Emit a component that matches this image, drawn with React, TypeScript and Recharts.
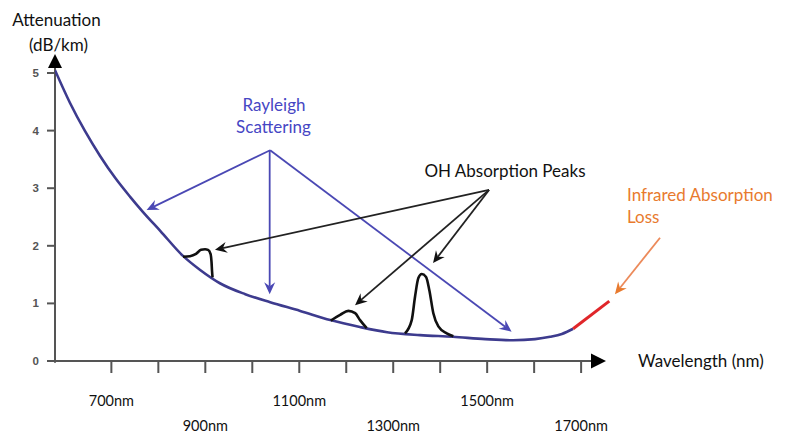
import React from 'react';
import { LineChart, Line, XAxis, YAxis, ReferenceLine } from 'recharts';

// ---- data ----
const baseWavelengths = [580, 612, 644, 676, 708, 740, 767, 804, 853, 889, 931, 985, 1038, 1102, 1166, 1229, 1287, 1357, 1427, 1496, 1555, 1602, 1634, 1659, 1683];
const baseAttenuation = [5.05, 4.48, 3.99, 3.56, 3.18, 2.85, 2.59, 2.26, 1.82, 1.58, 1.35, 1.16, 1.02, 0.87, 0.71, 0.59, 0.5, 0.45, 0.42, 0.38, 0.36, 0.38, 0.42, 0.47, 0.56];

const ohPeak1Wavelengths = [852.5, 867.4, 880.2, 890.9, 899.4, 905.8, 911.1, 913.2, 914.3, 915.4];
const ohPeak1Values = [1.81, 1.82, 1.86, 1.93, 1.94, 1.93, 1.86, 1.72, 1.56, 1.45];

const ohPeak2Wavelengths = [1167, 1187, 1204.5, 1219, 1229.4, 1243.6];
const ohPeak2Values = [0.7, 0.8, 0.87, 0.83, 0.71, 0.57];

const ohPeak3Wavelengths = [1325, 1339.4, 1346.5, 1353.5, 1360.7, 1369.9, 1376.9, 1385.4, 1396.1, 1413.9, 1428];
const ohPeak3Values = [0.48, 0.71, 1.12, 1.44, 1.51, 1.46, 1.23, 0.83, 0.6, 0.48, 0.43];

const irWavelengths = [1683, 1760];
const irValues = [0.56, 1.04];

const xTicks = [700, 800, 900, 1000, 1100, 1200, 1300, 1400, 1500, 1600, 1700];
const xLabelled = [700, 900, 1100, 1300, 1500, 1700];
const yTicks = [0, 1, 2, 3, 4, 5];

// annotation arrows: [fromX, fromY, toX, toY] in data units
const rayleighArrows = [
  [1038, 3.66, 775, 2.62],
  [1037, 3.66, 1037, 1.16],
  [1038, 3.66, 1552, 0.51],
];
const ohArrows = [
  [1504, 2.97, 920.6, 1.93],
  [1504, 2.97, 1218.7, 0.97],
  [1504, 2.97, 1384.8, 1.7],
];
const irArrow = [1868, 2.14, 1772, 1.16];

const zip = (xs: number[], ys: number[]) => xs.map((x, i) => ({ x, y: ys[i] }));

const baseData = zip(baseWavelengths, baseAttenuation);
const oh1Data = zip(ohPeak1Wavelengths, ohPeak1Values);
const oh2Data = zip(ohPeak2Wavelengths, ohPeak2Values);
const oh3Data = zip(ohPeak3Wavelengths, ohPeak3Values);
const irData = zip(irWavelengths, irValues);

const FONT = 'Lato, "Open Sans", sans-serif';

const arrowShape =
  (lineColor: string, headColor: string, width: number, headLen: number, headHalf: number, notch: number) =>
  (props: any) => {
    const { x1, y1, x2, y2 } = props;
    if ([x1, y1, x2, y2].some((v) => typeof v !== 'number' || isNaN(v))) return <g />;
    const dx = x2 - x1;
    const dy = y2 - y1;
    const L = Math.hypot(dx, dy) || 1;
    const ux = dx / L;
    const uy = dy / L;
    const nx = -uy;
    const ny = ux;
    const bx = x2 - ux * headLen;
    const by = y2 - uy * headLen;
    const mX = x2 - ux * (headLen - notch);
    const mY = y2 - uy * (headLen - notch);
    return (
      <g>
        <line x1={x1} y1={y1} x2={mX} y2={mY} stroke={lineColor} strokeWidth={width} />
        <path
          d={`M${x2},${y2} L${bx + nx * headHalf},${by + ny * headHalf} L${mX},${mY} L${bx - nx * headHalf},${by - ny * headHalf} Z`}
          fill={headColor}
        />
      </g>
    );
  };

const XTick = (props: any) => {
  const { x, payload } = props;
  const v = payload?.value;
  const idx = xLabelled.indexOf(v);
  if (idx < 0) return <g />;
  const row = idx % 2;
  return (
    <text
      x={x}
      y={row === 0 ? 400 : 425}
      textAnchor="middle"
      dominantBaseline="central"
      fontFamily={FONT}
      fontSize={14.5}
      fill="#111"
    >
      {`${v}nm`}
    </text>
  );
};

const YTick = (props: any) => {
  const { y, payload } = props;
  return (
    <text
      x={39}
      y={y}
      textAnchor="end"
      dominantBaseline="central"
      fontFamily='"Liberation Sans", Arial, sans-serif'
      fontWeight="bold"
      fontSize={11.5}
      fill="#555"
    >
      {payload?.value}
    </text>
  );
};

const BLUE_LINE = '#3d3b8e';
const BLUE_ARROW = '#4a48b4';
const BLUE_TEXT = '#4646c4';
const ORANGE = '#e87a2e';

export default function App() {
  return (
    <div style={{ position: 'absolute', left: 0, top: 0, width: 787, height: 434, background: '#fff' }}>
      <LineChart width={787} height={434} margin={{ top: 61.5, right: 173, bottom: 13, left: 0 }}>
        <XAxis
          type="number"
          dataKey="x"
          domain={[580, 1770]}
          allowDataOverflow
          ticks={xTicks}
          interval={0}
          axisLine={false}
          tickLine={{ stroke: '#555', strokeWidth: 2 }}
          tickSize={12}
          height={60}
          tick={<XTick />}
        />
        <YAxis
          type="number"
          domain={[0, 5.2]}
          allowDataOverflow
          ticks={yTicks}
          interval={0}
          width={55}
          axisLine={false}
          tickLine={{ stroke: '#555', strokeWidth: 2 }}
          tickSize={8}
          tick={<YTick />}
        />
        {/* axes with arrowheads */}
        <ReferenceLine
          segment={[{ x: 563, y: 0 }, { x: 1753, y: 0 }]}
          ifOverflow="visible"
          shape={arrowShape('#555', '#000', 2, 15, 7.5, 0)}
        />
        <ReferenceLine
          segment={[{ x: 580, y: -0.03 }, { x: 580, y: 5.33 }]}
          ifOverflow="visible"
          shape={arrowShape('#555', '#000', 2, 14, 7, 0)}
        />
        <Line data={baseData} dataKey="y" type="monotone" stroke={BLUE_LINE} strokeWidth={2.6} dot={false} isAnimationActive={false} />
        <Line data={oh1Data} dataKey="y" type="monotone" stroke="#111" strokeWidth={2.6} dot={false} isAnimationActive={false} />
        <Line data={oh2Data} dataKey="y" type="monotone" stroke="#111" strokeWidth={2.6} dot={false} isAnimationActive={false} />
        <Line data={oh3Data} dataKey="y" type="monotone" stroke="#111" strokeWidth={2.6} dot={false} isAnimationActive={false} />
        <Line data={irData} dataKey="y" type="linear" stroke="#e0262a" strokeWidth={3} dot={false} isAnimationActive={false} />
        {rayleighArrows.map((a, i) => (
          <ReferenceLine
            key={`r${i}`}
            segment={[{ x: a[0], y: a[1] }, { x: a[2], y: a[3] }]}
            ifOverflow="visible"
            shape={arrowShape(BLUE_ARROW, BLUE_ARROW, 1.8, 12, 5.5, 4)}
          />
        ))}
        {ohArrows.map((a, i) => (
          <ReferenceLine
            key={`o${i}`}
            segment={[{ x: a[0], y: a[1] }, { x: a[2], y: a[3] }]}
            ifOverflow="visible"
            shape={arrowShape('#222', '#111', 1.8, 12, 5.5, 4)}
          />
        ))}
        <ReferenceLine
          segment={[{ x: irArrow[0], y: irArrow[1] }, { x: irArrow[2], y: irArrow[3] }]}
          ifOverflow="visible"
          shape={arrowShape('#ec8a5a', ORANGE, 1.8, 12, 5.5, 4)}
        />
      </LineChart>
      <svg
        width={787}
        height={434}
        style={{ position: 'absolute', left: 0, top: 0, pointerEvents: 'none' }}
        fontFamily={FONT}
      >
        <text x={56.5} y={19} textAnchor="middle" dominantBaseline="central" fontSize={17} fill="#111">Attenuation</text>
        <text x={58.5} y={44} textAnchor="middle" dominantBaseline="central" fontSize={17} fill="#111">(dB/km)</text>
        <text x={274} y={104} textAnchor="middle" dominantBaseline="central" fontSize={17} fill={BLUE_TEXT}>Rayleigh</text>
        <text x={273.5} y={126} textAnchor="middle" dominantBaseline="central" fontSize={17} fill={BLUE_TEXT}>Scattering</text>
        <text x={505} y={170} textAnchor="middle" dominantBaseline="central" fontSize={17} fill="#111">OH Absorption Peaks</text>
        <text x={627} y={194} textAnchor="start" dominantBaseline="central" fontSize={17} fill={ORANGE}>Infrared Absorption</text>
        <text x={627} y={216} textAnchor="start" dominantBaseline="central" fontSize={17} fill={ORANGE}>Loss</text>
        <text x={638} y={360} textAnchor="start" dominantBaseline="central" fontSize={17} fill="#111">Wavelength (nm)</text>
      </svg>
    </div>
  );
}
